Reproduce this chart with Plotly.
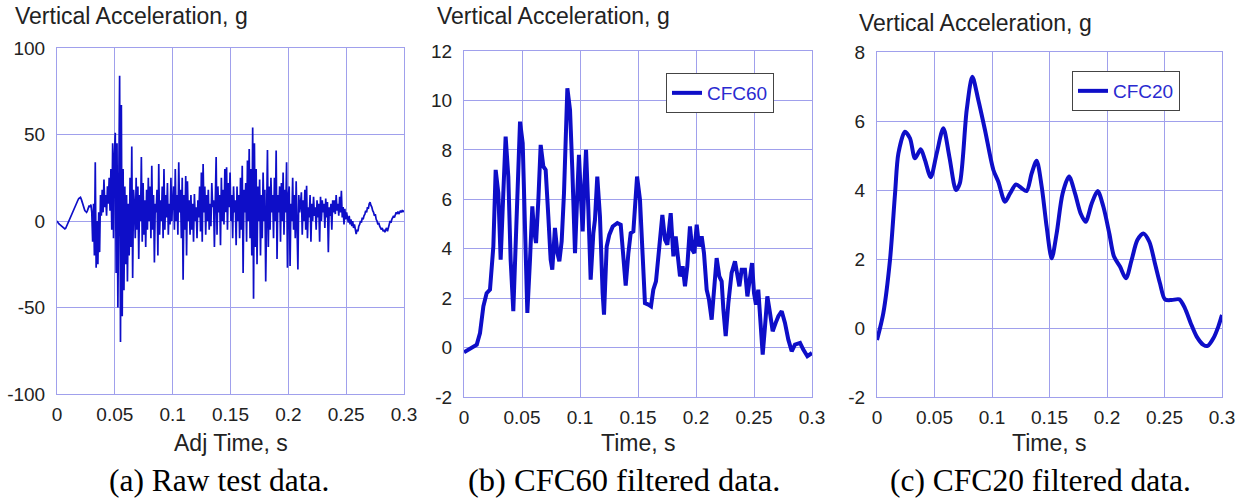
import numpy as np
import plotly.graph_objects as go

# ---------------- data ----------------
# (a) raw test data, vertical acceleration (g), evenly sampled over 0..0.3 s
raw_accel = [
    0, -1, -1.5, -2, -2.5, -3, -3.5, -4, -4.5, -4.6, -4.2, -3, -2, -1, 0, 1.5, 3, 4, 5.5, 7,
    8, 9, 10, 11, 12, 13, 13.5, 13.7, 12.5, 11, 9, 7, 6, 5.5, 5, 6, 8, 9, 8, 9.5,
    5, -12, 10, -20, 34, -27, 0, -25, 5, -18,
    15, 3, 18, 5, 24, 8, 15, 3, 20, 10, 25, 6,
    30, -5, 45, -10, 38,
    51, -30, 45, -50, 30, 84, -70, 67, -55, 30,
    -40, 20, -25, 15, -35, 10, -20, 25, -15, 43, -33,
    18, 10, -10, 25, -5, 20, -22, 15, 0, 37, -12, 22, -8,
    12, -15, 18, -5, 25, 0, 20, -10, 32, -5, 15, -24, 10,
    5, 18, -20, 33, -8, 12, 0, 20, -10, 30, -5, 15, 2, 22, -8, 10, -2, 25, 0, 12,
    20, -5, 30, 0, 15, -8, 34, 5,
    18, -10, 25, -34, 15, -5, 26, -20, 23, 0, 12, -8,
    15, -5, 10, -12, 15.6, 0, 8, -10, 12, 2, 20, -6, 28,
    -12, 33, 5, 20, -8, 15, 0, 18, -5, 10, -3, 22, 8, 12,
    -15, 10, 37, -8, 20, 5, 15, -14, 25, 0, 18, -2, 30,
    5, 31, -5, 22, 8, 28, 0, 15, -10, 20, 5, 12, -14,
    20, 0, 15, -10, 25, -5, 32, -30, 18, 5, 22, -12, 35, 0,
    41.6, -10, 30, -20, 54, -45, 45, -15, 30, -25, 20, 0, 24,
    -20, 15, -10, 28, 0, 18, -35, 10, 41, -15, 20, -5, 25,
    5, 15, -10, 25, 0, 40.7, -22, 15, 5, 20, -12, 22, 0, 28, -8, 18, 5, 34, -27, 15,
    20, -26, 10, 0, 25, -5, 15, -10, 23, 0, -28, 15, 5, 10,
    16.6, -8, 12, 0, 18, -5, 20.4, -10, 8, 2, 15, -12, 10, 0, 14, 3,
    8, -5, 12, 2, 10, -12, 14, 0, 12, 5, 10, -4, 13, 2, 11, -18, 8, 3, 10, -5, 12,
    5, 12, 4, 15, 6, 10, 3, 14, 5, 17.5, 2, 8, -2, 7, 1, 5,
    2, -1, 3, -2, 1, -3, 0, -4, -2, -5,
    -7.5, -5, -6, -3, -2, 0, -1, 2, 1, 3,
    4, 6, 5, 8, 7, 10, 10.8, 9, 8, 6,
    5, 3, 4, 1, 0, -2, -1, -3, -4, -5,
    -4, -6, -5, -6.5, -5, -4, -6, -3, -2, 0,
    -1, 1, 2, 3, 2, 4, 5, 4, 5.4, 4,
    5, 6, 5, 6, 5.5, 6,
]
raw_time = np.linspace(0.0, 0.3, len(raw_accel))

# (b) CFC60 filtered data
cfc60_time = [
    0, 0.0037, 0.008, 0.011, 0.0138, 0.0167, 0.0195, 0.0224, 0.0253, 0.0273,
    0.0296, 0.0316, 0.0339, 0.0359, 0.0382, 0.0402, 0.0425, 0.0454, 0.0483, 0.0506,
    0.0526, 0.0546, 0.0569, 0.0589, 0.0603, 0.0621, 0.0641, 0.0661, 0.0684, 0.0704,
    0.0727, 0.0747, 0.0761, 0.0784, 0.0805, 0.0822, 0.0842, 0.0862, 0.0891, 0.0914,
    0.0934, 0.0957, 0.0977, 0.0991, 0.1009, 0.1023, 0.1037, 0.1052, 0.1072, 0.1092,
    0.1115, 0.1129, 0.1149, 0.1172, 0.1195, 0.1207, 0.123, 0.1253, 0.1282, 0.1322,
    0.1351, 0.1374, 0.1394, 0.1417, 0.1437, 0.146, 0.1492, 0.1517, 0.154, 0.156,
    0.1589, 0.1612, 0.1632, 0.1655, 0.1684, 0.171, 0.1733, 0.1753, 0.1782, 0.1805,
    0.1825, 0.1842, 0.1862, 0.1885, 0.1905, 0.1925, 0.1948, 0.1968, 0.1986, 0.2006,
    0.2026, 0.2049, 0.2069, 0.2092, 0.2112, 0.2135, 0.2155, 0.2178, 0.2201, 0.2221,
    0.2236, 0.2256, 0.2279, 0.2307, 0.2336, 0.2356, 0.2374, 0.2394, 0.2422, 0.2443,
    0.2466, 0.2483, 0.25, 0.2517, 0.2537, 0.2557, 0.2575, 0.2595, 0.2615, 0.2638,
    0.2661, 0.2687, 0.271, 0.2739, 0.2767, 0.2796, 0.2825, 0.2853, 0.2897, 0.2925,
    0.296, 0.3,
]
cfc60_accel = [
    -0.19, -0.08, 0.03, 0.12, 0.59, 1.67, 2.2, 2.34, 4.09, 7.19,
    6.25, 3.56, 6.25, 8.54, 6.92, 3.56, 1.47, 4.9, 9.14, 8.27,
    4.9, 1.4, 3.56, 5.71, 4.77, 4.23, 5.98, 8.2, 7.33, 7.19,
    5.31, 3.56, 3.15, 4.84, 3.82, 3.49, 4.3, 6.25, 10.49, 9.62,
    7.19, 3.82, 6.25, 7.8, 5.98, 4.7, 6.52, 8.0, 5.58, 2.75,
    4.63, 5.17, 6.92, 5.31, 2.21, 1.33, 4.09, 4.57, 4.9, 5.04,
    4.97, 3.56, 2.51, 3.82, 4.63, 4.7, 6.92, 5.98, 3.56, 1.8,
    1.74, 1.67, 2.34, 2.68, 4.09, 5.37, 4.36, 4.16, 5.44, 3.69,
    4.5, 3.82, 2.88, 3.29, 2.48, 3.29, 4.9, 3.96, 3.82, 4.97,
    4.09, 4.5, 3.82, 2.34, 1.94, 1.13, 2.48, 3.62, 2.88, 2.68,
    1.54, 0.46, 1.8, 3.02, 3.49, 3.02, 2.48, 3.15, 3.15, 2.07,
    3.02, 3.42, 2.21, 1.74, 2.34, 0.86, -0.28, 0.86, 2.07, 1.4,
    0.66, 1.0, 1.27, 1.47, 1.0, 0.32, -0.15, 0.12, 0.19, -0.08,
    -0.35, -0.22,
]

# (c) CFC20 filtered data
cfc20_time = [
    0, 0.0055, 0.0113, 0.0157, 0.0186, 0.0243, 0.0287, 0.033, 0.038, 0.0417,
    0.0467, 0.0519, 0.0577, 0.0629, 0.0687, 0.072, 0.078, 0.0829, 0.0881, 0.0939,
    0.1012, 0.1055, 0.1113, 0.1157, 0.1209, 0.1258, 0.1301, 0.1345, 0.1388, 0.1432,
    0.1475, 0.1519, 0.1562, 0.1614, 0.167, 0.1722, 0.1771, 0.1814, 0.1867, 0.1919,
    0.1968, 0.202, 0.2061, 0.2113, 0.2165, 0.2214, 0.2264, 0.2316, 0.2368, 0.2417,
    0.2461, 0.2504, 0.2562, 0.2629, 0.2678, 0.2728, 0.278, 0.2838, 0.2875, 0.2925,
    0.2968, 0.3,
]
cfc20_accel = [
    -0.35, 0.43, 1.97, 3.9, 5.06, 5.69, 5.5, 4.92, 5.18, 4.87,
    4.37, 5.06, 5.79, 4.97, 4.0, 4.19, 6.32, 7.28, 6.61, 5.74,
    4.58, 4.24, 3.66, 3.9, 4.16, 4.05, 3.97, 4.48, 4.85, 4.1,
    2.94, 2.02, 2.74, 3.9, 4.39, 3.9, 3.32, 3.08, 3.61, 3.97,
    3.52, 2.74, 2.07, 1.78, 1.44, 1.97, 2.55, 2.74, 2.5, 1.87,
    1.29, 0.83, 0.81, 0.83, 0.57, 0.14, -0.25, -0.49, -0.52, -0.3,
    0.04, 0.38,
]

x_ticks = [0, 0.05, 0.1, 0.15, 0.2, 0.25, 0.3]
x_tick_text = ["0", "0.05", "0.1", "0.15", "0.2", "0.25", "0.3"]
ya_ticks = [-100, -50, 0, 50, 100]
ya_tick_text = ["-100", "-50", "0", "50", "100"]
yb_ticks = [-2, 0, 2, 4, 6, 8, 10, 12]
yb_tick_text = ["-2", "0", "2", "4", "6", "8", "10", "12"]
yc_ticks = [-2, 0, 2, 4, 6, 8]
yc_tick_text = ["-2", "0", "2", "4", "6", "8"]
y_title = "Vertical Acceleration, g"
x_titles = ["Adj Time, s", "Time, s", "Time, s"]
captions = ["(a) Raw test data.", "(b) CFC60 filtered data.", "(c) CFC20 filtered data."]

# ---------------- layout helpers ----------------
W, H = 1244, 501


def px(x):
    return x / W


def py(y):
    return 1 - y / H


LINE = "#0e0ec8"
GRID = "#a0a0ec"
SANS = "Liberation Sans, Arial, sans-serif"
SERIF = "Liberation Serif, Times New Roman, serif"

fig = go.Figure()
fig.add_trace(go.Scatter(x=raw_time, y=raw_accel, mode="lines",
                         line=dict(color=LINE, width=1.7), showlegend=False,
                         xaxis="x", yaxis="y"))
fig.add_trace(go.Scatter(x=cfc60_time, y=cfc60_accel, mode="lines", name="CFC60",
                         line=dict(color=LINE, width=4), legend="legend",
                         xaxis="x2", yaxis="y2"))
fig.add_trace(go.Scatter(x=cfc20_time, y=cfc20_accel, mode="lines", name="CFC20",
                         line=dict(color=LINE, width=4, shape="spline", smoothing=0.8),
                         legend="legend2", xaxis="x3", yaxis="y3"))

panels = [
    # left, right, top, bottom, yrange, yticks, ytext
    (57, 404, 48, 394, [-100, 100], ya_ticks, ya_tick_text),
    (464, 812, 51, 397, [-2, 12], yb_ticks, yb_tick_text),
    (877, 1222, 52, 397, [-2, 8], yc_ticks, yc_tick_text),
]

axis_common = dict(showgrid=True, gridcolor=GRID, gridwidth=1, showline=True,
                   linecolor=GRID, linewidth=1, mirror=True, zeroline=False,
                   automargin=False,
                   ticks="", tickfont=dict(family=SANS, size=19, color="#222"))

layout = dict(width=W, height=H,
              margin=dict(l=0, r=0, t=0, b=0, pad=0, autoexpand=False),
              paper_bgcolor="white", plot_bgcolor="white", autosize=False,
              font=dict(family=SANS))

annotations = []
title_y = [16, 16, 23]
title_x = [13, 435, 857]
caption_x = [219, 624, 1040]
caption_size = [31.5, 32.5, 31.5]
for i, (l, r, t, b, yr, yt, ytt) in enumerate(panels):
    sfx = "" if i == 0 else str(i + 1)
    layout["xaxis" + sfx] = dict(domain=[px(l), px(r)], range=[0, 0.3],
                                 anchor="y" + sfx, tickvals=x_ticks, ticktext=x_tick_text,
                                 ticklabelstandoff=3, **axis_common)
    layout["yaxis" + sfx] = dict(domain=[py(b), py(t)], range=yr, tickvals=yt, ticktext=ytt,
                                 anchor="x" + sfx, ticklabelstandoff=7, **axis_common)
    annotations.append(dict(text=y_title, x=px(title_x[i]), y=py(title_y[i]),
                            xref="paper", yref="paper", xanchor="left", yanchor="middle",
                            showarrow=False, font=dict(family=SANS, size=23, color="#222")))
    cx = (l + r) / 2
    annotations.append(dict(text=x_titles[i], x=px(cx), y=py(443), xref="paper", yref="paper",
                            xanchor="center", yanchor="middle", showarrow=False,
                            font=dict(family=SANS, size=23, color="#222")))
    annotations.append(dict(text=captions[i], x=px(caption_x[i]), y=py(480),
                            xref="paper", yref="paper", xanchor="center", yanchor="middle",
                            showarrow=False,
                            font=dict(family=SERIF, size=caption_size[i], color="black")))

layout["annotations"] = annotations
leg_common = dict(xanchor="left", yanchor="top", bgcolor="white", bordercolor="#444",
                  borderwidth=1, font=dict(family=SANS, size=19, color="#2a2ad0"),
                  xref="paper", yref="paper")
layout["legend"] = dict(x=px(666), y=py(73), **leg_common)
layout["legend2"] = dict(x=px(1072), y=py(71), **leg_common)

fig.update_layout(**layout)
fig.write_html("out.html", post_script="document.body.style.margin='0';"
                                       "document.body.style.overflow='hidden';")
